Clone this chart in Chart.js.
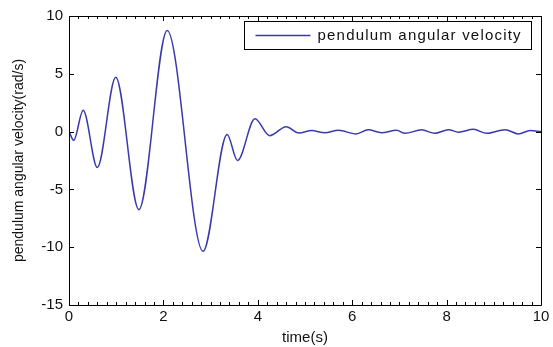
<!DOCTYPE html>
<html>
<head>
<meta charset="utf-8">
<script src="https://cdn.jsdelivr.net/npm/chart.js@4.4.1/dist/chart.umd.min.js"></script>
<style>
  html, body { margin: 0; padding: 0; background: #fff; }
  #wrap { width: 553px; height: 347px; position: relative; }
</style>
</head>
<body>
<div id="wrap"><canvas id="c" width="553" height="347"></canvas></div>
<script>
// ---- data ----
const timeS = [0, 0.1, 0.3, 0.6, 0.99, 1.48, 2.08, 2.84, 3.35, 3.57, 3.94, 4.25, 4.6, 4.87, 5.14, 5.42, 5.71, 6.08, 6.34, 6.62, 6.94, 7.12, 7.47, 7.75, 8.04, 8.25, 8.57, 8.85, 9.24, 9.52, 9.77, 10];
const angularVelocity = [0, -0.75, 1.85, -3.1, 4.7, -6.75, 8.75, -10.35, -0.25, -2.5, 1.12, -0.35, 0.43, -0.12, 0.09, -0.1, 0.11, -0.2, 0.15, -0.1, 0.11, -0.15, 0.15, -0.15, 0.17, -0.05, 0.2, -0.15, 0.17, -0.2, 0.09, 0];
const xTicks = [0, 2, 4, 6, 8, 10];
const yTicks = [-15, -10, -5, 0, 5, 10];
const seriesLabel = 'pendulum angular velocity';
const xTitle = 'time(s)';
const yTitle = 'pendulum angular velocity(rad/s)';

const FONT = "'Liberation Sans', Arial, sans-serif";
Chart.defaults.font.family = FONT;
Chart.defaults.color = '#111';

const boxTicks = {
  id: 'boxTicks',
  afterDraw(chart) {
    const {ctx, chartArea: a, scales: {x, y}} = chart;
    ctx.save();
    ctx.strokeStyle = '#000';
    ctx.lineWidth = 1;
    ctx.beginPath();
    ctx.rect(Math.round(a.left) + 0.5, Math.round(a.top) + 0.5, Math.round(a.right - a.left), Math.round(a.bottom - a.top));
    ctx.stroke();
    ctx.beginPath();
    // x ticks (major + minor)
    for (let i = 0; i <= 50; i++) {
      const v = i * 0.2;
      const px = Math.round(x.getPixelForValue(v)) + 0.5;
      const major = i % 10 === 0;
      const len = major ? 5 : 3;
      ctx.moveTo(px, a.bottom); ctx.lineTo(px, a.bottom - len);
      ctx.moveTo(px, a.top); ctx.lineTo(px, a.top + len);
    }
    // y ticks
    yTicks.forEach(v => {
      const py = Math.round(y.getPixelForValue(v)) + 0.5;
      ctx.moveTo(a.left, py); ctx.lineTo(a.left + 5, py);
      ctx.moveTo(a.right, py); ctx.lineTo(a.right - 5, py);
    });
    ctx.stroke();

    // legend box
    const ds = chart.data.datasets[0];
    const bx = Math.round(a.right) - 296.5, by = Math.round(a.top) + 5.5, bw = 287, bh = 28;
    ctx.fillStyle = '#fff';
    ctx.fillRect(bx, by, bw, bh);
    ctx.strokeStyle = '#000';
    ctx.strokeRect(bx, by, bw, bh);
    ctx.strokeStyle = ds.borderColor;
    ctx.lineWidth = 1.3;
    ctx.beginPath();
    ctx.moveTo(bx + 11, by + bh / 2);
    ctx.lineTo(bx + 66, by + bh / 2);
    ctx.stroke();
    ctx.fillStyle = '#111';
    ctx.font = '15px ' + FONT;
    ctx.letterSpacing = '1.2px';
    ctx.textBaseline = 'middle';
    ctx.textAlign = 'left';
    ctx.fillText(ds.label, bx + 73, by + bh / 2 + 0.5);
    ctx.restore();
  }
};

new Chart(document.getElementById('c'), {
  type: 'line',
  data: {
    datasets: [{
      label: seriesLabel,
      data: timeS.map((t, i) => ({x: t, y: angularVelocity[i]})),
      borderColor: '#3a3aad',
      borderWidth: 1.5,
      pointRadius: 0,
      fill: false,
      cubicInterpolationMode: 'monotone'
    }]
  },
  options: {
    responsive: false,
    animation: false,
    devicePixelRatio: 1,
    layout: { padding: { left: 0, right: 12, top: 16, bottom: 0 } },
    plugins: { legend: { display: false }, tooltip: { enabled: false } },
    scales: {
      x: {
        type: 'linear', min: 0, max: 10,
        afterBuildTicks: s => { s.ticks = xTicks.map(v => ({value: v})); },
        afterFit: s => { s.height = 42; },
        grid: { display: false, drawTicks: false },
        border: { display: false },
        ticks: { padding: 3, maxRotation: 0, font: { size: 15 }, color: '#111' },
        title: { display: true, text: xTitle, font: { size: 15 }, color: '#111', padding: { top: 0, bottom: 0 } }
      },
      y: {
        type: 'linear', min: -15, max: 10,
        afterBuildTicks: s => { s.ticks = yTicks.map(v => ({value: v})); },
        afterFit: s => { s.width = 69; },
        grid: { display: false, drawTicks: false },
        border: { display: false },
        ticks: { padding: 6, font: { size: 15 }, color: '#111' },
        title: { display: true, text: yTitle, font: { size: 14 }, color: '#111', padding: { top: 11, bottom: 0 } }
      }
    }
  },
  plugins: [boxTicks]
});
</script>
</body>
</html>
